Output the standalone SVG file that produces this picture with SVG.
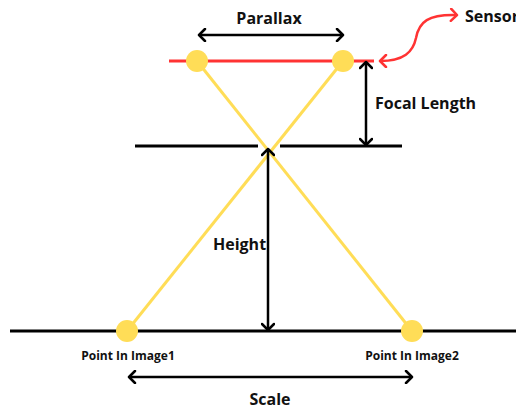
<svg xmlns="http://www.w3.org/2000/svg" width="516" height="410" viewBox="0 0 516 410">
<style>
.blk{stroke:#000;stroke-width:3;fill:none}
.arr{stroke:#000;stroke-width:2.5;fill:none;marker-start:url(#ah);marker-end:url(#ah)}
.ray{stroke:#ffdd57;stroke-width:3;fill:none}
.pt{fill:#ffdd57}
.lbl{font-family:"Open Sans","Liberation Sans",sans-serif;font-weight:bold;fill:#111}
</style>
<defs>
<marker id="ah" markerUnits="userSpaceOnUse" viewBox="-9 -7 11 14" markerWidth="11" markerHeight="14" refX="0" refY="0" orient="auto-start-reverse">
<path d="M-6,-6 L0,0 L-6,6" stroke="#000" stroke-width="2.5" fill="none" stroke-linecap="round" stroke-linejoin="round"/>
</marker>
<marker id="ahr" markerUnits="userSpaceOnUse" viewBox="-9 -7 11 14" markerWidth="11" markerHeight="14" refX="0" refY="0" orient="auto-start-reverse">
<path d="M-6,-6 L0,0 L-6,6" stroke="#ff3333" stroke-width="2.5" fill="none" stroke-linecap="round" stroke-linejoin="round"/>
</marker>
</defs>
<g id="ground"><line class="blk" x1="10" y1="331" x2="516" y2="331"/></g>
<g id="lens">
<line class="blk" x1="135" y1="146" x2="258" y2="146"/>
<line class="blk" x1="280" y1="146" x2="402" y2="146"/>
</g>
<g id="sensor"><line x1="169" y1="61" x2="374" y2="61" stroke="#ff3333" stroke-width="3"/></g>
<g id="rays">
<line class="ray" x1="197" y1="61" x2="412" y2="331"/>
<line class="ray" x1="343" y1="61" x2="127" y2="331"/>
</g>
<g id="connectors">
<line class="arr" x1="199" y1="35" x2="343" y2="35"/>
<line class="arr" x1="366" y1="62" x2="366" y2="145"/>
<line class="arr" x1="268" y1="149" x2="268" y2="330"/>
<line class="arr" x1="129" y1="377" x2="412" y2="377"/>
<path d="M380,61 C404,61 413,52 416,38 C419,22 428,14 457,15" stroke="#ff3333" stroke-width="2.5" fill="none" marker-start="url(#ahr)" marker-end="url(#ahr)"/>
</g>
<g id="p1"><circle class="pt" cx="197" cy="61" r="11"/></g>
<g id="p2"><circle class="pt" cx="343" cy="61" r="11"/></g>
<g id="img1"><circle class="pt" cx="127" cy="331" r="11"/><text class="lbl" x="128" y="360" font-size="12" text-anchor="middle">Point In Image1</text></g>
<g id="img2"><circle class="pt" cx="412" cy="331" r="11"/><text class="lbl" x="412" y="360" font-size="12" text-anchor="middle">Point In Image2</text></g>
<g id="labels">
<text class="lbl" x="269" y="24" font-size="16" text-anchor="middle">Parallax</text>
<text class="lbl" x="465" y="22" font-size="16">Sensor</text>
<text class="lbl" x="375" y="109" font-size="16">Focal Length</text>
<text class="lbl" x="213" y="250" font-size="16">Height</text>
<text class="lbl" x="270" y="405" font-size="16" text-anchor="middle">Scale</text>
</g>
</svg>
